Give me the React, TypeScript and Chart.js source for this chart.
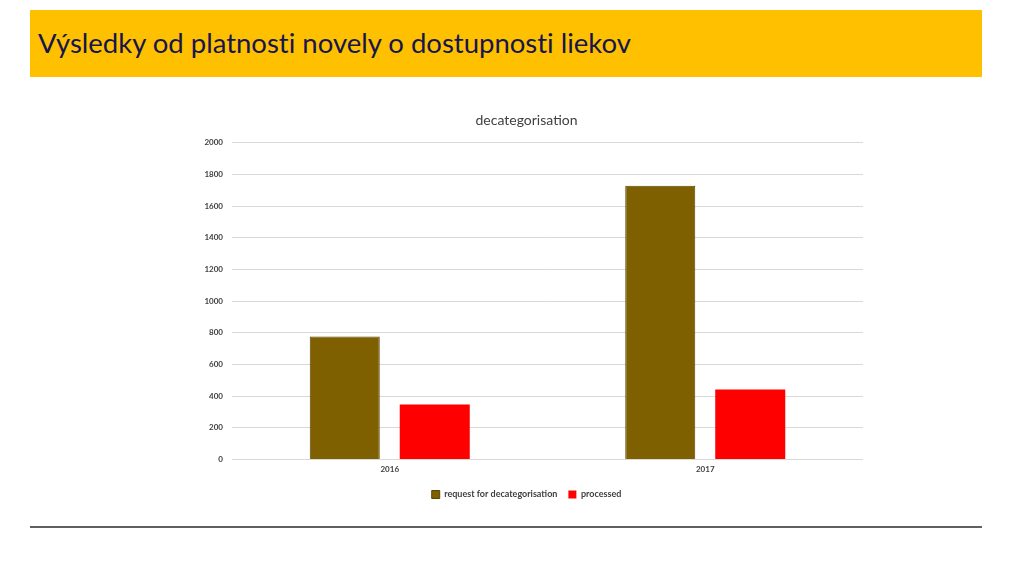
import React, { useEffect, useRef } from "react";
import { Chart, registerables } from "chart.js";

Chart.register(...registerables);

const pageTitle = "Výsledky od platnosti novely o dostupnosti liekov";
const chartTitle = "decategorisation";
const categories = ["2016", "2017"];
const requestValues = [776, 1729];
const processedValues = [347, 442];
const seriesNames = ["request for decategorisation", "processed"];

export default function App() {
  const ref = useRef<HTMLCanvasElement | null>(null);

  useEffect(() => {
    if (!ref.current) return;
    const chart = new Chart(ref.current, {
      type: "bar",
      data: {
        labels: categories,
        datasets: [
          {
            label: seriesNames[0],
            data: requestValues,
            backgroundColor: "#7F6000",
            borderColor: "#5C4500",
            borderWidth: 1,
            categoryPercentage: 0.5705,
            barPercentage: 0.778,
          },
          {
            label: seriesNames[1],
            data: processedValues,
            backgroundColor: "#FF0000",
            borderColor: "#FF0000",
            borderWidth: 0,
            categoryPercentage: 0.5705,
            barPercentage: 0.778,
          },
        ],
      },
      options: {
        responsive: false,
        animation: false,
        layout: { padding: { left: 0, right: 27, top: 0, bottom: 0 } },
        plugins: {
          title: {
            display: true,
            text: chartTitle,
            color: "#404040",
            font: { family: "Lato", size: 14, weight: "normal" },
            padding: { top: 6, bottom: 14 },
          },
          legend: {
            position: "bottom",
            labels: {
              color: "#404040",
              font: { family: "Lato", size: 9, weight: "bold" },
              boxWidth: 8,
              boxHeight: 8,
              padding: 11,
            },
          },
          tooltip: { enabled: false },
        },
        scales: {
          x: {
            grid: { display: false, drawTicks: false },
            border: { display: false },
            ticks: {
              color: "#404040",
              font: { family: "Lato", size: 8, weight: "bold" },
              padding: 5,
            },
          },
          y: {
            min: 0,
            max: 2000,
            grid: { color: "#D9D9D9", drawTicks: false, lineWidth: 1 },
            border: { display: false },
            ticks: {
              stepSize: 200,
              color: "#404040",
              font: { family: "Lato", size: 8, weight: "bold" },
              padding: 9,
              callback: (v: any) => String(v),
            },
            afterFit: (s: any) => {
              s.width = 42;
            },
          },
        },
      },
    });
    return () => chart.destroy();
  }, []);

  return (
    <div style={{ position: "fixed", left: 0, top: 0, width: 1024, height: 569, background: "#fff" }}>
      <div
        style={{
          position: "absolute",
          left: 30,
          top: 10,
          width: 952,
          height: 67,
          background: "#FFC000",
        }}
      >
        <div
          style={{
            position: "absolute",
            left: 8,
            top: 16,
            fontFamily: "Lato, sans-serif",
            fontSize: 27.5,
            fontVariantLigatures: "none",
            color: "#16164F",
            whiteSpace: "nowrap",
          }}
        >
          {pageTitle}
        </div>
      </div>
      <div style={{ position: "absolute", left: 190, top: 106 }}>
        <canvas ref={ref} width={700} height={403} />
      </div>
      <div
        style={{
          position: "absolute",
          left: 30,
          top: 526,
          width: 952,
          height: 2,
          background: "#606060",
        }}
      />
    </div>
  );
}
